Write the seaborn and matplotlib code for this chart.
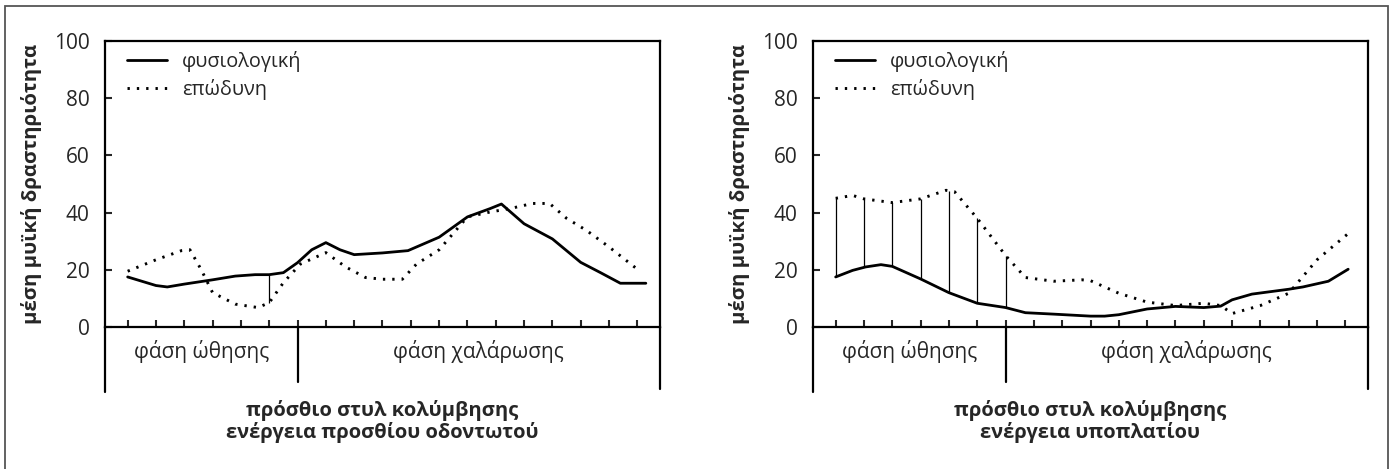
import numpy as np
import matplotlib
matplotlib.use("Agg")
import matplotlib.pyplot as plt
import seaborn as sns
from matplotlib.patches import Rectangle

# --- dati (ascissa in unità di tacca, 0..18) ---
front_phys_x = [0, 0.5, 1, 1.4, 2, 3, 3.8, 4.5, 5, 5.5, 6, 6.5, 7, 7.5, 8, 9, 9.9,
                11, 12, 12.8, 13.2, 14, 15, 16, 16.7, 17.4, 18.3]
front_phys_y = [17.5, 16, 14.5, 14, 15, 16.5, 17.8, 18.3, 18.3, 19, 22.5, 27, 29.5, 27,
                25.3, 25.9, 26.7, 31.4, 38.5, 41.4, 43, 36.1, 30.8, 22.6, 19, 15.3, 15.3]
front_pain_x = [0, 1, 1.9, 2.2, 2.6, 3, 3.8, 4.6, 5, 5.5, 6.1, 7, 7.7, 8.4, 9, 9.7,
                10.2, 11, 12, 12.8, 13.5, 14.3, 14.9, 15.5, 16.2, 17, 18]
front_pain_y = [19.5, 23.5, 26.7, 27, 20, 12, 8, 6.8, 8.5, 15.5, 22, 26, 21, 17.3,
                16.7, 16.7, 22, 27, 38.5, 40.2, 41.4, 43.2, 43.2, 38, 33.8, 28, 20.2]
front_hatch = [5]

sub_phys_x = [0, 0.6, 1.06, 1.6, 2, 3, 4, 5, 6, 6.7, 7.7, 9, 9.5, 10, 11, 12, 13,
              13.6, 14, 14.7, 16, 16.5, 17.4, 18.1]
sub_phys_y = [17.5, 19.8, 21, 21.8, 21.2, 16.8, 12, 8.3, 6.8, 5, 4.5, 3.8, 3.8, 4.3,
              6.3, 7.2, 6.8, 7.3, 9.5, 11.5, 13.2, 14, 16, 20.2]
sub_pain_x = [0, 0.6, 1, 2, 3, 3.9, 4.2, 5, 6, 6.7, 7.7, 8.7, 9, 10, 11, 12, 13,
              13.6, 14, 15, 16, 17, 18.2]
sub_pain_y = [45, 46, 44.8, 43.5, 44.8, 47.8, 47.3, 38, 25, 17.3, 16, 16.5, 16.2,
              11.8, 8.7, 7.5, 8.3, 7.5, 4.7, 7.5, 11.8, 23.5, 33.5]
sub_hatch = [0, 1, 2, 3, 4, 5, 6]

tick_pos = list(range(19))
y_ticks = [0, 20, 40, 60, 80, 100]
phase_split = 6

legend_labels = ["φυσιολογική", "επώδυνη"]
phase_labels = ["φάση ώθησης", "φάση χαλάρωσης"]
y_label = "μέση μυϊκή δραστηριότητα"
titles = ["πρόσθιο στυλ κολύμβησης\nενέργεια προσθίου οδοντωτού",
          "πρόσθιο στυλ κολύμβησης\nενέργεια υποπλατίου"]

sns.set_style("white")
plt.rcParams["font.family"] = ["Open Sans", "DejaVu Sans"]

fig = plt.figure(figsize=(13.91, 4.69), dpi=100)
W, H = 1391, 469
ax_left = fig.add_axes([105 / W, 1 - 327 / H, 555 / W, 286 / H])
ax_right = fig.add_axes([813 / W, 1 - 327 / H, 555 / W, 286 / H])

panels = [
    (ax_left, front_phys_x, front_phys_y, front_pain_x, front_pain_y, front_hatch, titles[0]),
    (ax_right, sub_phys_x, sub_phys_y, sub_pain_x, sub_pain_y, sub_hatch, titles[1]),
]

for ax, px, py, qx, qy, hatch, title in panels:
    sns.lineplot(x=px, y=py, ax=ax, color="black", lw=2.0, label=legend_labels[0])
    sns.lineplot(x=qx, y=qy, ax=ax, color="black", lw=2.1,
                 linestyle=(0, (0.8, 2.4)), label=legend_labels[1])

    # linee verticali tra le due curve
    lo = np.interp(hatch, px, py)
    hi = np.interp(hatch, qx, qy)
    ax.vlines(hatch, lo, hi, color="black", lw=0.9)

    ax.set_xlim(-0.8, 18.8)
    ax.set_ylim(0, 100)
    ax.set_xticks(tick_pos)
    ax.set_xticklabels([])
    ax.set_yticks(y_ticks)
    ax.tick_params(axis="x", direction="in", length=5, width=1.5, bottom=True)
    ax.tick_params(axis="y", direction="in", length=5, width=1.5, left=True,
                   labelsize=15, pad=11)
    for s in ax.spines.values():
        s.set_visible(True)
        s.set_color("black")
        s.set_linewidth(1.6)

    ax.set_ylabel(y_label, fontsize=14.7, fontweight="bold")
    ax.yaxis.set_label_coords(-0.113, 0.5)

    # riquadro sotto l'asse con le fasi
    ax.plot([0, 0], [0, -0.227], transform=ax.transAxes, color="black", lw=1.6,
            clip_on=False)
    ax.plot([1, 1], [0, -0.217], transform=ax.transAxes, color="black", lw=1.6,
            clip_on=False)
    ax.axvline(phase_split, ymin=-0.192, ymax=0, color="black", lw=1.6, clip_on=False)
    ax.text((-0.8 + phase_split) / 2, -0.087, phase_labels[0], transform=ax.get_xaxis_transform(),
            ha="center", va="center", fontsize=15)
    ax.text((phase_split + 18.8) / 2, -0.087, phase_labels[1], transform=ax.get_xaxis_transform(),
            ha="center", va="center", fontsize=15)
    ax.text(0.5, -0.33, title, transform=ax.transAxes, ha="center", va="center",
            fontsize=14.5, fontweight="bold", linespacing=1.1)

    leg = ax.legend(loc="upper left", bbox_to_anchor=(0.04, 0.965), frameon=False,
                    borderpad=0, borderaxespad=0, handlelength=2.0,
                    handletextpad=0.75, labelspacing=0.35, fontsize=14.3)

fig.add_artist(Rectangle((5 / W, -0.05), 1383 / W, 1.05 - 6 / H, transform=fig.transFigure,
                         fill=False, edgecolor="#555555", lw=1.3))

fig.savefig("out.png", dpi=100)
plt.close(fig)
